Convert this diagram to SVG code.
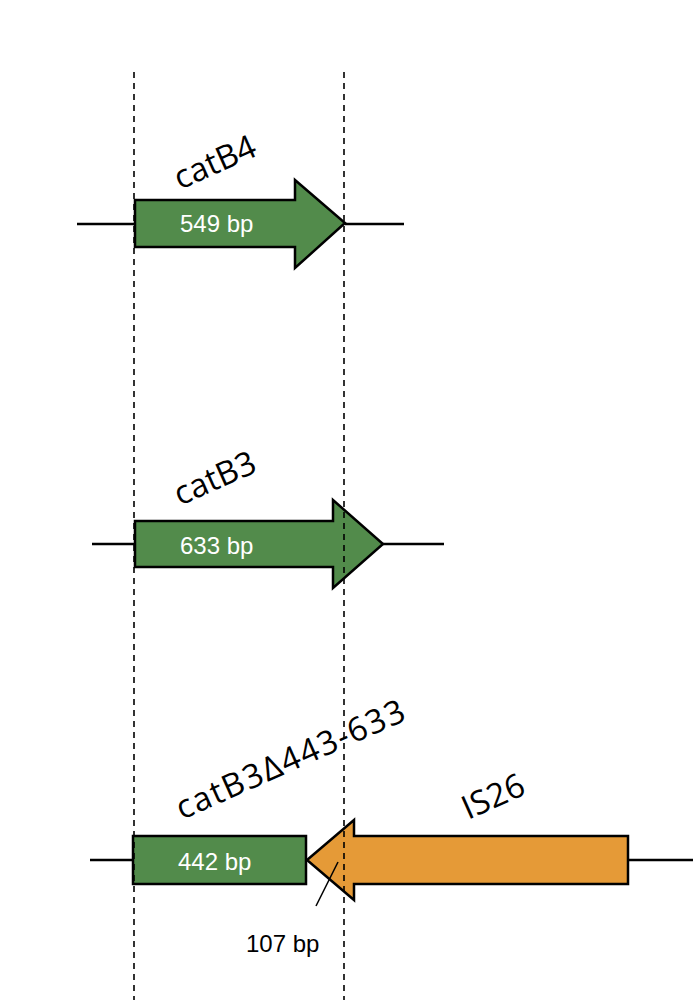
<svg xmlns="http://www.w3.org/2000/svg" width="698" height="1000" viewBox="0 0 698 1000">
<style>
.bb{stroke:#000;stroke-width:2.5}
.g{fill:#528b4b}
.o{fill:#e59a37}
.ln{stroke:#000;stroke-width:2.5;fill:none}
.d{stroke:#000;stroke-width:1.6;stroke-dasharray:6,5;fill:none}
.in{font-family:"Liberation Sans",Arial,sans-serif;font-size:24px;fill:#fff}
.lb{font-family:"Open Sans","DejaVu Sans",sans-serif;font-size:33px;fill:#000}
.sm{font-family:"Liberation Sans",Arial,sans-serif;font-size:24px;fill:#000}
</style>
<rect width="698" height="1000" fill="#fff"/>
<g id="catB4">
<polygon class="g bb" points="135,200 295,200 295,180 345,223 295,268 295,247 135,247"/>
<text class="in" x="180" y="232">549 bp</text>
<text class="lb" transform="translate(180,190) rotate(-24)">catB4</text>
</g>
<g id="catB3">
<polygon class="g bb" points="135,521 333,521 333,500 383,544 333,588 333,567 135,567"/>
<text class="in" x="180" y="554">633 bp</text>
<text class="lb" transform="translate(180,506) rotate(-24)">catB3</text>
</g>
<g id="catB3d">
<rect class="g bb" x="133" y="836" width="173" height="48"/>
<text class="in" x="178" y="870">442 bp</text>
<text class="lb" letter-spacing="1.5" transform="translate(182,820) rotate(-24)">catB3Δ443-633</text>
</g>
<g id="IS26">
<polygon class="o bb" points="628,836 354,836 354,820 307,860 354,900 354,884 628,884"/>
<text class="lb" font-size="36" transform="translate(468,820) rotate(-24)">IS26</text>
</g>
<g id="connectors">
<line class="ln" x1="77" y1="224" x2="135" y2="224"/>
<line class="ln" x1="345" y1="224" x2="404" y2="224"/>
<line class="ln" x1="92" y1="544" x2="135" y2="544"/>
<line class="ln" x1="383" y1="544" x2="444" y2="544"/>
<line class="ln" x1="90" y1="860" x2="133" y2="860"/>
<line class="ln" x1="628" y1="860" x2="693" y2="860"/>
<line class="d" x1="134" y1="72" x2="134" y2="1000"/>
<line class="d" x1="344" y1="72" x2="344" y2="1000"/>
<line stroke="#000" stroke-width="1.6" x1="338" y1="862" x2="316" y2="906"/>
</g>
<text class="sm" x="246" y="952">107 bp</text>
</svg>
